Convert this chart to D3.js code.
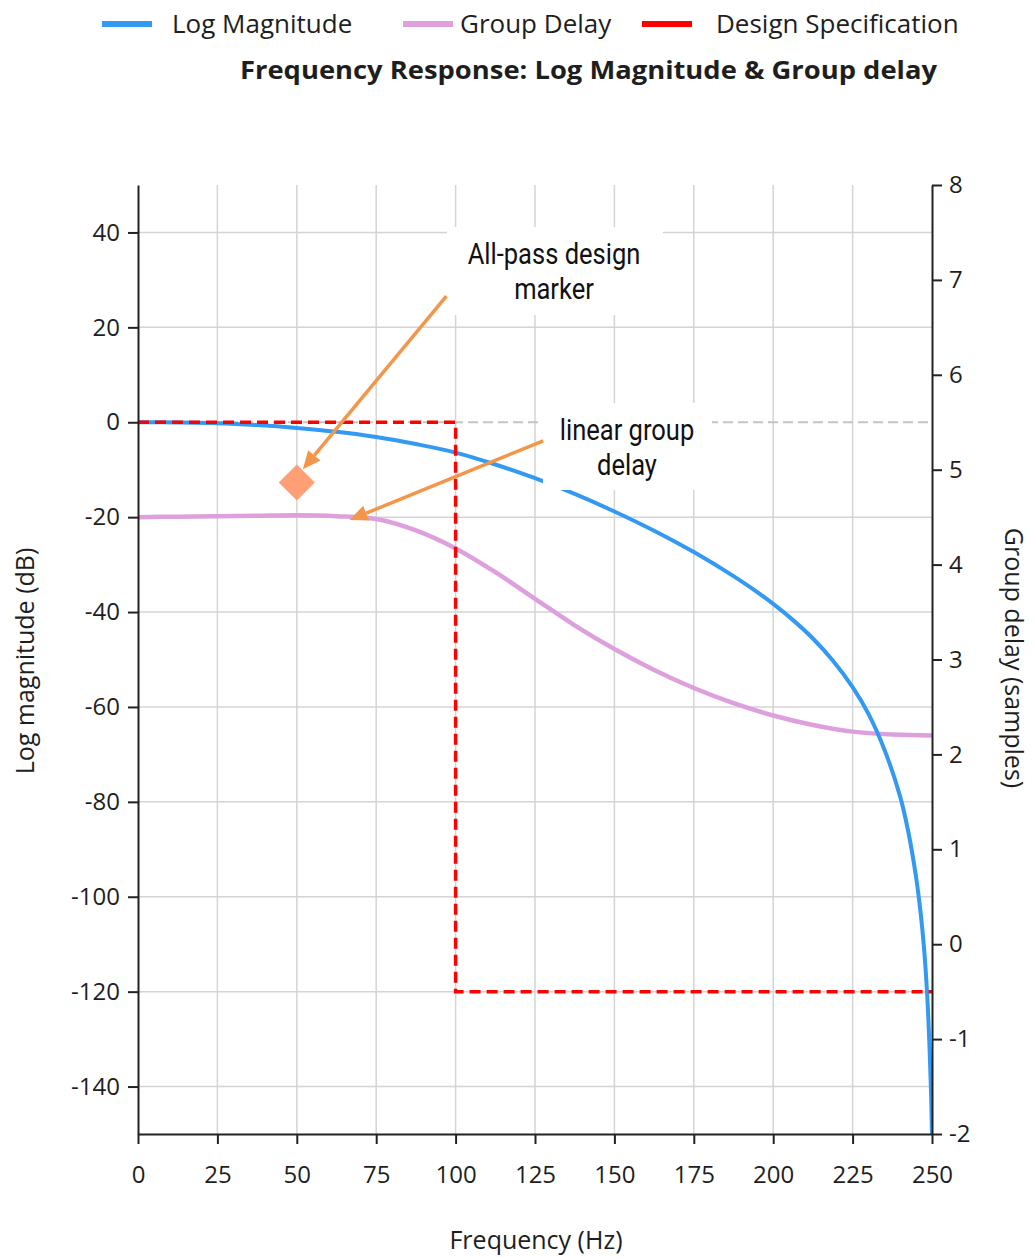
<!DOCTYPE html>
<html>
<head>
<meta charset="utf-8">
<script src="https://cdn.jsdelivr.net/npm/d3@7"></script>
<style>
  html, body { margin: 0; padding: 0; background: #fff; }
  svg { display: block; }
  text { fill: #1e1e1e; }
</style>
</head>
<body>
<svg id="chart" width="1035" height="1257"></svg>
<script>
// Frequency grid (Hz) for the log-magnitude trace
const magFreq = [0, 12.5, 25, 37.5, 50, 62.5, 75, 87.5, 100, 112.5, 125, 137.5, 150, 162.5,
                 175, 187.5, 193.75, 200, 206.25, 212.5, 218.75, 225, 230, 235, 240, 242.5,
                 245, 246.5, 247.5, 248.5, 249.2, 249.7, 250];
// Log magnitude (dB)
const logMagnitude = [0, -0.05, -0.2, -0.6, -1.2, -2.0, -3.1, -4.6, -6.4, -8.9, -11.8, -15.1,
                      -18.8, -22.86, -27.36, -32.42, -35.23, -38.29, -41.7, -45.57, -50.2, -55.8,
                      -61.45, -68.95, -78.95, -86.2, -95.95, -103.9, -110.9, -120.9, -131.4,
                      -141.4, -150];

// Frequency grid (Hz) for the group-delay trace
const gdFreq = [0, 12.5, 25, 37.5, 50, 62.5, 75, 87.5, 100, 112.5, 125, 137.5, 150, 162.5,
                175, 187.5, 200, 212.5, 225, 237.5, 250];
// Group delay (samples)
const groupDelay = [4.50, 4.505, 4.51, 4.515, 4.52, 4.51, 4.48, 4.36, 4.17, 3.92, 3.64, 3.36,
                    3.11, 2.89, 2.70, 2.54, 2.41, 2.31, 2.24, 2.21, 2.20];

// Design specification mask (Hz, dB)
const specFreq = [0, 100, 100, 250];
const specLevel = [0, 0, -120, -120];

// All-pass design marker (Hz, dB)
const markerFreq = [50];
const markerLevel = [-12.7];

// Axis ticks
const xTicks = [0, 25, 50, 75, 100, 125, 150, 175, 200, 225, 250];
const yLeftTicks = [40, 20, 0, -20, -40, -60, -80, -100, -120, -140];
const yRightTicks = [8, 7, 6, 5, 4, 3, 2, 1, 0, -1, -2];

// Legend entries
const legendNames = ["Log Magnitude", "Group Delay", "Design Specification"];
const legendColors = ["#3399f3", "#dda0dd", "#ff0000"];

const UI_FONT = "'Open Sans', 'Noto Sans', sans-serif";
const NOTE_FONT = "Roboto, sans-serif";

const svg = d3.select("#chart");
const W = 1035, H = 1257;
const m = { left: 138, right: 103, top: 185, bottom: 123 };
const iw = W - m.left - m.right, ih = H - m.top - m.bottom;

const x = d3.scaleLinear().domain([0, 250]).range([m.left, m.left + iw]);
const yL = d3.scaleLinear().domain([-150, 50]).range([m.top + ih, m.top]);
const yR = d3.scaleLinear().domain([-2, 8]).range([m.top + ih, m.top]);

svg.append("defs").append("clipPath").attr("id", "plot")
  .append("rect").attr("x", m.left).attr("y", m.top).attr("width", iw).attr("height", ih);

// Grid
const grid = svg.append("g");
grid.selectAll("line.v").data(xTicks.filter(t => t > 0 && t < 250)).join("line")
  .attr("x1", d => x(d)).attr("x2", d => x(d))
  .attr("y1", m.top).attr("y2", m.top + ih)
  .attr("stroke", "#d4d4d4").attr("stroke-width", 1.5);
grid.selectAll("line.h").data(yLeftTicks.filter(t => t !== 0)).join("line")
  .attr("x1", m.left).attr("x2", m.left + iw)
  .attr("y1", d => yL(d)).attr("y2", d => yL(d))
  .attr("stroke", "#d4d4d4").attr("stroke-width", 1.5);
grid.append("line")
  .attr("x1", m.left).attr("x2", m.left + iw)
  .attr("y1", yL(0)).attr("y2", yL(0))
  .attr("stroke", "#c4c4c4").attr("stroke-width", 2).attr("stroke-dasharray", "10,5");

// Traces
const plot = svg.append("g").attr("clip-path", "url(#plot)");
const smooth = d3.curveCatmullRom.alpha(0.5);
const magLine = d3.line().x((d, i) => x(magFreq[i])).y(d => yL(d)).curve(smooth);
const gdLine = d3.line().x((d, i) => x(gdFreq[i])).y(d => yR(d)).curve(smooth);
const specLine = d3.line().x((d, i) => x(specFreq[i])).y(d => yL(d));

plot.append("path").datum(groupDelay).attr("d", gdLine)
  .attr("fill", "none").attr("stroke", legendColors[1]).attr("stroke-width", 4.5);
plot.append("path").datum(logMagnitude).attr("d", magLine)
  .attr("fill", "none").attr("stroke", legendColors[0]).attr("stroke-width", 4);
plot.append("path").datum(specLevel).attr("d", specLine)
  .attr("fill", "none").attr("stroke", legendColors[2]).attr("stroke-width", 3.5)
  .attr("stroke-dasharray", "11,6");

// Marker
svg.selectAll("path.marker").data(markerFreq).join("path")
  .attr("d", d3.symbol().type(d3.symbolSquare).size(650))
  .attr("transform", (d, i) => `translate(${x(d)},${yL(markerLevel[i])}) rotate(45)`)
  .attr("fill", "#ff9f76");

// Axes (plain hyphen for negative labels)
function styleAxis(g) {
  g.selectAll("path.domain").attr("stroke", "#222").attr("stroke-width", 2);
  g.selectAll(".tick line").attr("stroke", "#222").attr("stroke-width", 2);
  g.selectAll(".tick text").style("font-family", UI_FONT)
    .style("font-size", "24px").style("fill", "#1e1e1e");
}
const fmt = d => String(d);
svg.append("g").attr("transform", `translate(0,${m.top + ih})`)
  .call(d3.axisBottom(x).tickValues(xTicks).tickFormat(fmt).tickSize(10).tickPadding(22).tickSizeOuter(0))
  .call(styleAxis);
svg.append("g").attr("transform", `translate(${m.left},0)`)
  .call(d3.axisLeft(yL).tickValues(yLeftTicks).tickFormat(fmt).tickSize(10).tickPadding(8).tickSizeOuter(0))
  .call(styleAxis);
svg.append("g").attr("transform", `translate(${m.left + iw},0)`)
  .call(d3.axisRight(yR).tickValues(yRightTicks).tickFormat(fmt).tickSize(10).tickPadding(7).tickSizeOuter(0))
  .call(styleAxis);

// Axis titles
function label(sel) { return sel.style("font-family", UI_FONT).style("font-size", "25px"); }
svg.append("text").attr("x", 536).attr("y", 1249).attr("text-anchor", "middle")
  .call(label).text("Frequency (Hz)");
svg.append("text").attr("transform", "translate(34,661) rotate(-90)").attr("text-anchor", "middle")
  .call(label).text("Log magnitude (dB)");
svg.append("text").attr("transform", "translate(1005,658) rotate(90)").attr("text-anchor", "middle")
  .call(label).text("Group delay (samples)");

// Legend
const legendX = [102, 403, 642];
const legendTextX = [172, 460, 716];
const lg = svg.append("g");
legendNames.forEach((name, i) => {
  lg.append("line").attr("x1", legendX[i]).attr("x2", legendX[i] + 50)
    .attr("y1", 24).attr("y2", 24).attr("stroke", legendColors[i]).attr("stroke-width", 6);
  lg.append("text").attr("x", legendTextX[i]).attr("y", 33)
    .style("font-family", UI_FONT).style("font-size", "26px").text(name);
});

// Title
svg.append("text").attr("x", 240).attr("y", 79)
  .style("font-family", UI_FONT).style("font-size", "25px").style("font-weight", "bold")
  .attr("textLength", 697).attr("lengthAdjust", "spacingAndGlyphs")
  .text("Frequency Response: Log Magnitude & Group delay");

// Annotation callouts
const ann = svg.append("g");
const boxes = [
  { x0: 447, y0: 227, x1: 663, y1: 315, cx: 554, lines: ["All-pass design", "marker"], base: 264 },
  { x0: 543, y0: 403, x1: 712, y1: 490, cx: 627, lines: ["linear group", "delay"], base: 440 }
];
boxes.forEach(b => {
  ann.append("rect").attr("x", b.x0).attr("y", b.y0).attr("width", b.x1 - b.x0)
    .attr("height", b.y1 - b.y0).attr("fill", "#fff");
  b.lines.forEach((t, j) => {
    ann.append("text")
      .attr("transform", `translate(${b.cx},${b.base + j * 35}) scale(0.88,1)`)
      .attr("text-anchor", "middle")
      .style("font-family", NOTE_FONT).style("font-size", "29px").style("fill", "#111")
      .text(t);
  });
});

// Arrows: tail at the callout box, head on the target
const arrowColor = "#f4964a";
const arrows = [
  { from: [x(97.1), yL(26.6)], to: [x(51.9), yL(-9.9)] },
  { from: [x(127.6), yL(-3.9)], to: [x(66.6), yR(4.47)] }
];
arrows.forEach(a => {
  const [x0, y0] = a.from, [x1, y1] = a.to;
  const ang = Math.atan2(y1 - y0, x1 - x0);
  const len = 18, half = 8;
  const bx = x1 - len * Math.cos(ang), by = y1 - len * Math.sin(ang);
  ann.append("line").attr("x1", x0).attr("y1", y0).attr("x2", bx).attr("y2", by)
    .attr("stroke", arrowColor).attr("stroke-width", 3.5);
  ann.append("path")
    .attr("d", `M${x1},${y1} L${bx + half * Math.sin(ang)},${by - half * Math.cos(ang)} ` +
               `L${bx - half * Math.sin(ang)},${by + half * Math.cos(ang)} Z`)
    .attr("fill", arrowColor);
});
</script>
</body>
</html>
